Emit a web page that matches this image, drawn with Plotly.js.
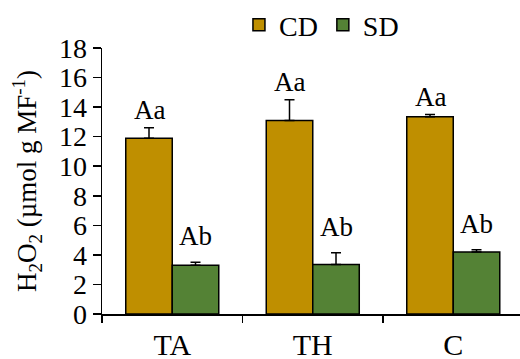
<!DOCTYPE html>
<html><head><meta charset="utf-8">
<script src="https://cdn.plot.ly/plotly-3.0.1.min.js"></script>
<style>html,body{margin:0;padding:0;background:#fff}#chart{width:520px;height:359px}</style>
</head><body><div id="chart"></div>
<script>
var categories = ['TA', 'TH', 'C'];
var seriesNames = ['CD', 'SD'];
var cdValues = [11.9, 13.1, 13.35];
var cdErrors = [0.7, 1.4, 0.15];
var sdValues = [3.3, 3.35, 4.2];
var sdErrors = [0.2, 0.8, 0.15];
var cdLabels = ['Aa', 'Aa', 'Aa'];
var sdLabels = ['Ab', 'Ab', 'Ab'];
var yTicks = [0, 2, 4, 6, 8, 10, 12, 14, 16, 18];

var FONT = 'Liberation Serif';
var bargap = 0.338;
var off = (1 - bargap) / 4;

function bar(name, vals, errs, color) {
  return {
    type: 'bar', name: name, x: categories, y: vals,
    marker: {color: color, line: {color: '#000', width: 1.5}},
    error_y: {type: 'data', array: errs, symmetric: false, arrayminus: errs.map(function(){return 0;}),
              color: '#000', thickness: 1.5, width: 5}
  };
}
var data = [
  bar(seriesNames[0], cdValues, cdErrors, '#BF8F00'),
  bar(seriesNames[1], sdValues, sdErrors, '#548235')
];

var ann = [];
categories.forEach(function(c, i) {
  ann.push({x: i - off, y: cdValues[i] + cdErrors[i], xref: 'x', yref: 'y', text: cdLabels[i],
            showarrow: false, yanchor: 'bottom', yshift: 1, font: {family: FONT, size: 27, color: '#000'}});
  ann.push({x: i + off, y: sdValues[i] + sdErrors[i], xref: 'x', yref: 'y', text: sdLabels[i],
            showarrow: false, yanchor: 'bottom', yshift: 9, font: {family: FONT, size: 27, color: '#000'}});
});

var layout = {
  width: 520, height: 359,
  margin: {l: 102, r: 0, t: 48, b: 45},
  paper_bgcolor: '#fff', plot_bgcolor: '#fff',
  font: {family: FONT, size: 27, color: '#000'},
  barmode: 'group', bargap: bargap, bargroupgap: 0,
  showlegend: true,
  legend: {orientation: 'h', x: 0.525, xanchor: 'center', y: 1.086, yanchor: 'middle',
           font: {family: FONT, size: 28, color: '#000'}, itemwidth: 30, tracegroupgap: 0},
  xaxis: {
    type: 'category', range: [-0.5, 2.475], showline: true, linecolor: '#000', linewidth: 1.5,
    ticks: 'outside', tickson: 'boundaries', ticklen: 7, tickcolor: '#000', tickwidth: 1.5,
    showgrid: false, zeroline: false, ticklabelstandoff: 3,
    tickfont: {family: FONT, size: 30, color: '#000'}
  },
  yaxis: {
    range: [0, 18], tickvals: yTicks, showline: true, linecolor: '#000', linewidth: 1.5,
    ticks: 'outside', ticklen: 8, tickcolor: '#000', tickwidth: 1.5,
    showgrid: false, zeroline: false,
    tickfont: {family: FONT, size: 28, color: '#000'},
    title: {text: 'H<sub>2</sub>O<sub>2</sub> (µmol g MF<sup>-1</sup>)', standoff: 14,
            font: {family: FONT, size: 27, color: '#000'}}
  },
  annotations: ann
};
Plotly.newPlot('chart', data, layout, {displayModeBar: false, staticPlot: true});
</script></body></html>
